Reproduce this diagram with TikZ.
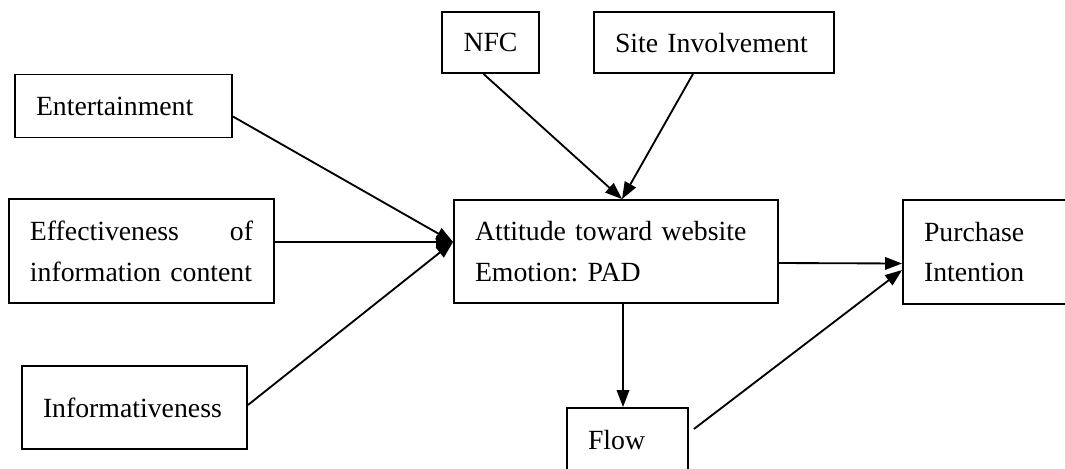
\documentclass[tikz,border=0pt]{standalone}
\usepackage{fontspec}
\setmainfont{Liberation Serif}
\usepackage{tikz}
\usetikzlibrary{arrows.meta}
\usetikzlibrary{calc}
\newlength{\pxl}
\setlength{\pxl}{0.02cm}
\frenchspacing

\begin{document}
\begin{tikzpicture}[x=0.02cm,y=-0.02cm,->,line width=1.05pt,>={Triangle[length=0.34cm,width=0.25cm]}]
\fontsize{15.8pt}{23.3pt}\selectfont
\tikzstyle{box}=[draw, -, line width=1.05pt, inner xsep=21\pxl, inner ysep=0pt, align=left]
\useasboundingbox (0,0) rectangle (1065,468);
\clip (0,0) rectangle (1065,468);
% factors on the left
\node[box, text width=175\pxl, minimum height=63\pxl] (ent) at (123.5,106) {Entertainment};
\node[box, text width=223\pxl, minimum height=104\pxl] (eff) at (141.5,251) {Effectiveness\hfill of\\information content};
\node[box, text width=183\pxl, minimum height=83\pxl] (inf) at (134.5,407.5) {Informativeness};
% moderators on top
\node[box, text width=57\pxl, inner xsep=20\pxl, align=center, minimum height=61\pxl] (nfc) at (490.5,42.5) {NFC};
\node[box, text width=198\pxl, minimum height=61\pxl] (site) at (714,42.5) {Site Involvement};
% middle and right
\node[box, text width=282\pxl, minimum height=103\pxl] (att) at (616,251.5) {Attitude toward website\\Emotion: PAD};
\node[box, text width=79\pxl, minimum height=64\pxl] (flow) at (627.5,440) {Flow};
\node[box, text width=130\pxl, minimum height=104\pxl] (pur) at (989,252) {Purchase\\Intention};
\coordinate (attW) at ($(att.west)+(0,-9.5)$);
\coordinate (attN) at ($(att.north)+(6,0)$);
\draw ($(ent.east)+(0,10.5)$) -- (attW);
\draw ($(eff.east)+(0,-9)$) -- (attW);
\draw ($(inf.east)+(0,-2.5)$) -- (attW);
\draw ($(nfc.south)+(-7,0)$) -- (attN);
\draw ($(site.south)+(-21,0)$) -- (attN);
\draw ($(att.east)+(0,11.5)$) -- ($(pur.west)+(0,11.5)$);
\draw ($(flow.east)+(5,-11)$) -- ($(pur.west)+(0,18)$);
\draw ($(att.south)+(7,0)$) -- ($(flow.north)+(-4.5,0)$);
\end{tikzpicture}
\end{document}
